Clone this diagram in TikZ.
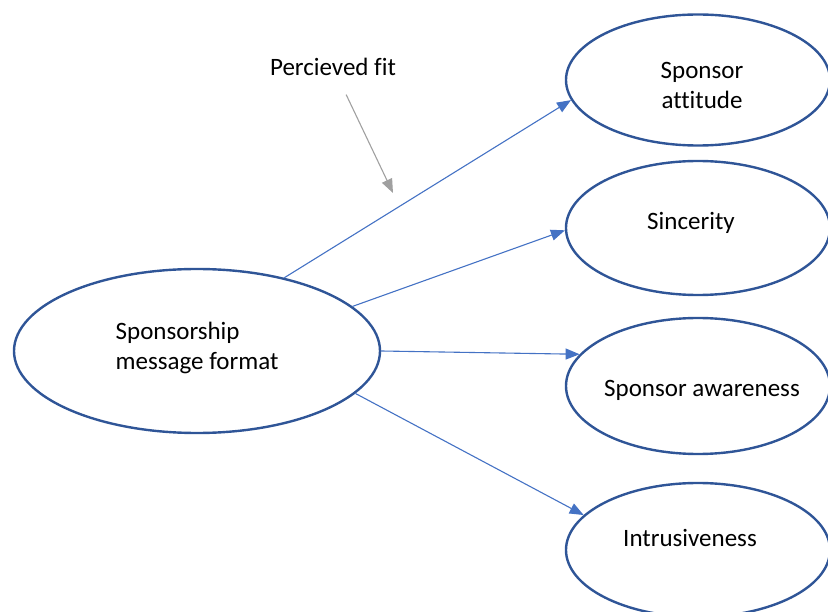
\documentclass[tikz,border=0pt]{standalone}
\usepackage{fontspec}
\setmainfont{Carlito}[Ligatures=CommonOff]
\usepackage{tikz}
\usepackage{xcolor}
\usetikzlibrary{shapes.geometric}
\usetikzlibrary{arrows.meta}

\definecolor{ovalblue}{HTML}{2F5597}
\definecolor{linkblue}{HTML}{4472C4}
\definecolor{fitgray}{HTML}{A0A0A0}

\tikzset{
  every node/.style={font=\fontsize{25pt}{30pt}\selectfont},
  oval/.style={ellipse, draw=ovalblue, line width=2.4pt, inner sep=0pt},
  link/.style={draw=linkblue, line width=1.1pt, -{Triangle[length=14pt,width=11pt]}},
  fitarrow/.style={draw=fitgray, line width=1.1pt, -{Triangle[length=14pt,width=11pt]}}
}

\begin{document}
\begin{tikzpicture}[x=1pt,y=-1pt]
\useasboundingbox (0,0) rectangle (828,612);
\clip (0,0) rectangle (828,612);

% left oval
\node[oval, minimum width=366pt, minimum height=164pt,
  label={[align=left, yshift=3pt]center:Sponsorship\\message format}] (format) at (197,351) {};

% right ovals
\node[oval, minimum width=264pt, minimum height=131pt,
  label={[align=center, xshift=4pt, yshift=-5pt]center:Sponsor\\attitude}] (attitude) at (698,80) {};
\node[oval, minimum width=264pt, minimum height=134pt,
  label={[xshift=-7pt, yshift=5pt]center:Sincerity}] (sincerity) at (698,228) {};
\node[oval, minimum width=264pt, minimum height=136pt,
  label={[xshift=4pt, yshift=-4pt]center:Sponsor awareness}] (awareness) at (698,386) {};
\node[oval, minimum width=264pt, minimum height=134pt,
  label={[xshift=-8pt, yshift=12pt]center:Intrusiveness}] (intrusive) at (698,550) {};

\node (fit) at (333,67) {Percieved fit};
\coordinate (fittip) at (393,193);

\draw[link] (format.40) -- (attitude.189);
\draw[link] (format.16) -- (sincerity.181);
\draw[link] (format.0) -- (awareness.165);
\draw[link] (format.-15) -- (intrusive.163);
\draw[fitarrow, shorten <=17pt] (fit) -- (fittip);

\end{tikzpicture}
\end{document}
